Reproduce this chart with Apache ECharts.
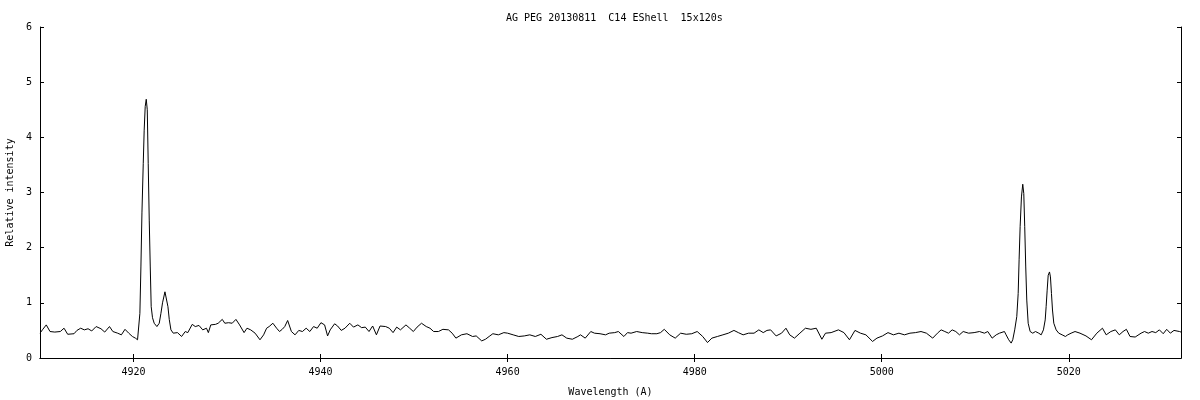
<!DOCTYPE html>
<html>
<head>
<meta charset="utf-8">
<script src="https://cdn.jsdelivr.net/npm/echarts@6/dist/echarts.min.js"></script>
<style>
html,body{margin:0;padding:0;background:#fff;}
#chart{width:1200px;height:400px;}
</style>
</head>
<body>
<div id="chart"></div>
<script>
const titleText = "AG PEG 20130811  C14 EShell  15x120s";
const xName = "Wavelength (A)";
const yName = "Relative intensity";
const xTicks = [4920, 4940, 4960, 4980, 5000, 5020];
const yTicks = [0, 1, 2, 3, 4, 5, 6];

const wavelength = [
4910.0,4910.3,4910.67,4911.07,4911.58,4912.17,4912.57,4912.96,4913.64,4913.95,
4914.35,4914.74,4915.14,4915.53,4916.0,4916.52,4916.92,4917.43,4917.79,4918.3,
4918.7,4919.09,4919.49,4919.88,4920.2,4920.43,4920.68,4920.79,4920.90,4921.04,
4921.14,4921.25,4921.36,4921.47,4921.57,4921.68,4921.79,4921.89,4922.03,4922.21,
4922.50,4922.75,4922.93,4923.10,4923.36,4923.53,4923.68,4923.82,4924.00,4924.25,
4924.43,4924.7,4925.14,4925.53,4925.8,4926.28,4926.6,4927.0,4927.4,4927.8,
4928.0,4928.26,4928.77,4929.05,4929.49,4929.76,4930.16,4930.55,4930.95,4931.34,
4931.82,4932.13,4932.53,4933.0,4933.52,4933.91,4934.23,4934.5,4934.9,4935.3,
4935.61,4935.9,4936.17,4936.48,4936.68,4936.88,4937.27,4937.67,4938.06,4938.46,
4938.85,4939.25,4939.64,4940.04,4940.43,4940.75,4941.03,4941.5,4941.82,4942.21,
4942.61,4943.12,4943.52,4943.99,4944.39,4944.78,4945.18,4945.57,4945.97,4946.36,
4946.96,4947.35,4947.75,4948.14,4948.54,4949.13,4949.53,4949.92,4950.32,4950.79,
4951.3,4951.7,4952.09,4952.6,4953.08,4953.68,4954.07,4954.47,4955.06,4955.65,
4956.25,4956.64,4957.23,4957.63,4958.02,4958.42,4959.01,4959.6,4960.0,4960.59,
4961.19,4961.78,4962.37,4962.96,4963.56,4964.15,4964.74,4965.34,4965.81,4966.32,
4966.92,4967.51,4967.79,4968.3,4968.89,4969.29,4969.88,4970.47,4970.86,4971.45,
4971.84,4972.43,4972.82,4973.2,4973.8,4974.39,4974.98,4975.37,4975.96,4976.35,
4976.75,4977.33,4977.92,4978.5,4979.1,4979.69,4980.27,4980.86,4981.37,4981.84,
4982.43,4983.02,4983.6,4984.2,4984.67,4985.18,4985.76,4986.35,4986.86,4987.33,
4987.73,4988.12,4988.71,4989.29,4989.76,4990.16,4990.67,4991.25,4991.84,4992.43,
4993.0,4993.6,4993.99,4994.59,4995.37,4995.96,4996.55,4997.14,4997.73,4998.31,
4999.02,4999.49,5000.08,5000.67,5001.25,5001.84,5002.43,5003.02,5003.6,5004.2,
5004.78,5005.45,5005.96,5006.35,5006.75,5007.14,5007.53,5007.92,5008.31,5008.71,
5009.29,5009.88,5010.45,5010.98,5011.34,5011.81,5012.24,5012.59,5013.12,5013.30,
5013.58,5013.84,5014.01,5014.22,5014.44,5014.59,5014.69,5014.80,5014.94,5015.08,
5015.19,5015.29,5015.40,5015.51,5015.66,5015.87,5016.15,5016.44,5016.79,5017.05,
5017.29,5017.48,5017.58,5017.69,5017.80,5017.94,5018.04,5018.15,5018.26,5018.40,
5018.65,5018.93,5019.29,5019.64,5019.89,5020.25,5020.67,5021.2,5021.84,5022.43,
5023.0,5023.6,5024.0,5024.5,5024.98,5025.4,5025.8,5026.16,5026.55,5027.1,
5027.73,5028.1,5028.5,5028.9,5029.3,5029.69,5030.1,5030.47,5030.86,5031.25,
5031.84,5032.0
];

const intensity = [
0.45,0.52,0.60,0.48,0.47,0.48,0.54,0.43,0.44,0.50,
0.54,0.51,0.53,0.49,0.57,0.53,0.47,0.57,0.48,0.45,
0.42,0.52,0.45,0.39,0.36,0.33,0.81,1.65,2.63,3.53,
4.13,4.56,4.69,4.50,3.53,2.50,1.65,0.93,0.73,0.63,
0.57,0.63,0.81,1.00,1.20,1.18,0.93,0.70,0.51,0.45,
0.48,0.46,0.39,0.48,0.46,0.61,0.57,0.59,0.51,0.54,
0.46,0.60,0.61,0.63,0.70,0.63,0.64,0.63,0.70,0.60,
0.46,0.54,0.51,0.45,0.33,0.42,0.54,0.57,0.63,0.54,
0.48,0.52,0.57,0.68,0.58,0.48,0.42,0.50,0.48,0.54,
0.48,0.57,0.54,0.64,0.60,0.40,0.51,0.62,0.58,0.50,
0.54,0.63,0.56,0.60,0.55,0.56,0.48,0.58,0.42,0.58,
0.57,0.54,0.46,0.56,0.51,0.60,0.54,0.48,0.56,0.63,
0.57,0.54,0.48,0.48,0.52,0.51,0.45,0.36,0.42,0.44,
0.39,0.40,0.31,0.34,0.39,0.44,0.42,0.46,0.45,0.42,
0.39,0.40,0.42,0.39,0.43,0.34,0.37,0.39,0.42,0.36,
0.34,0.39,0.42,0.36,0.48,0.45,0.44,0.42,0.45,0.46,
0.48,0.39,0.46,0.45,0.48,0.46,0.45,0.44,0.44,0.46,
0.52,0.42,0.36,0.45,0.43,0.44,0.48,0.39,0.28,0.36,
0.39,0.42,0.45,0.50,0.46,0.42,0.45,0.45,0.51,0.46,
0.50,0.51,0.40,0.45,0.54,0.42,0.36,0.45,0.54,0.52,
0.54,0.34,0.45,0.46,0.51,0.46,0.33,0.50,0.45,0.42,
0.30,0.36,0.40,0.46,0.42,0.45,0.42,0.45,0.46,0.48,
0.45,0.36,0.45,0.51,0.48,0.45,0.51,0.48,0.42,0.48,
0.45,0.46,0.48,0.45,0.48,0.36,0.42,0.45,0.48,0.42,
0.33,0.27,0.33,0.51,0.75,1.17,1.78,2.38,2.92,3.15,
2.98,2.38,1.65,1.05,0.63,0.48,0.45,0.48,0.45,0.42,
0.51,0.69,0.93,1.23,1.50,1.56,1.47,1.17,0.87,0.63,
0.51,0.45,0.42,0.39,0.42,0.45,0.48,0.45,0.40,0.33,
0.45,0.54,0.42,0.48,0.51,0.42,0.48,0.52,0.39,0.38,
0.45,0.48,0.45,0.48,0.46,0.51,0.44,0.52,0.45,0.50,
0.48,0.47
];

const points = wavelength.map((w, i) => [w, intensity[i]]);
const FONT = "DejaVu Sans Mono";
const xMin = 4910, xMax = 5032, yMin = 0, yMax = 6;

const chart = echarts.init(document.getElementById('chart'), null, {renderer: 'canvas'});
const axisCommon = {
  axisLine: {show: true, lineStyle: {color: '#000', width: 1}},
  splitLine: {show: false},
};
chart.setOption({
  animation: false,
  backgroundColor: '#fff',
  title: {
    text: titleText, left: 501, top: 8,
    textStyle: {fontFamily: FONT, fontSize: 10, fontWeight: 'normal', color: '#000'}
  },
  grid: {left: 40, right: 19, top: 27, bottom: 42, show: false, containLabel: false, outerBoundsMode: 'none'},
  xAxis: [
    Object.assign({}, axisCommon, {
      type: 'value', min: xMin, max: xMax, position: 'bottom',
      axisTick: {show: true, inside: true, length: 4, customValues: xTicks, lineStyle: {color: '#000'}},
      axisLabel: {show: true, customValues: xTicks, margin: 9, fontFamily: FONT, fontSize: 10, color: '#000',
        formatter: v => String(v)},
      name: xName, nameLocation: 'middle', nameGap: 29,
      nameTextStyle: {fontFamily: FONT, fontSize: 10, color: '#000'}
    }),
    Object.assign({}, axisCommon, {
      type: 'value', min: xMin, max: xMax, position: 'top',
      axisTick: {show: true, inside: true, length: 4, customValues: xTicks, lineStyle: {color: '#000'}},
      axisLabel: {show: false}
    })
  ],
  yAxis: [
    Object.assign({}, axisCommon, {
      type: 'value', min: yMin, max: yMax, interval: 1, position: 'left',
      axisTick: {show: true, inside: true, length: 4, customValues: yTicks, lineStyle: {color: '#000'}},
      axisLabel: {show: true, customValues: yTicks, margin: 8, fontFamily: FONT, fontSize: 10, color: '#000',
        formatter: v => String(v)},
      name: yName, nameLocation: 'middle', nameGap: 22,
      nameTextStyle: {fontFamily: FONT, fontSize: 10, color: '#000'}
    }),
    Object.assign({}, axisCommon, {
      type: 'value', min: yMin, max: yMax, interval: 1, position: 'right',
      axisTick: {show: true, inside: true, length: 4, customValues: yTicks, lineStyle: {color: '#000'}},
      axisLabel: {show: false}
    })
  ],
  series: [{
    type: 'line', data: points, xAxisIndex: 0, yAxisIndex: 0,
    showSymbol: false, symbol: 'none',
    lineStyle: {color: '#000', width: 1},
    z: 3
  }]
});
</script>
</body>
</html>
